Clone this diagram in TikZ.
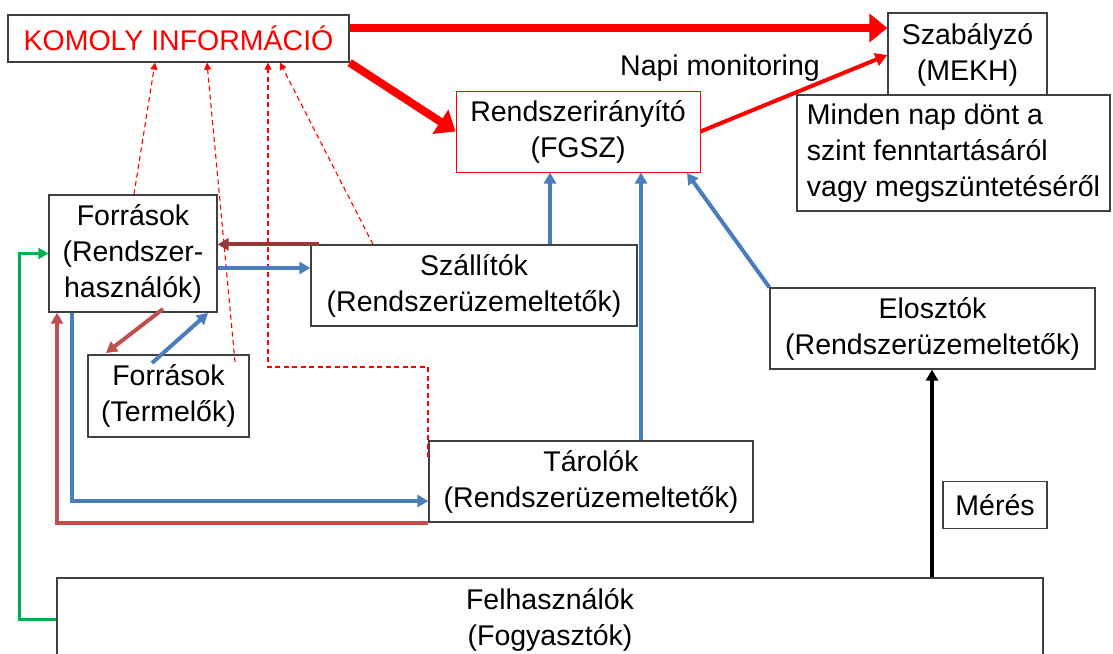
\documentclass[tikz,border=0pt]{standalone}
\usepackage{fontspec}
\setmainfont{Liberation Sans}
\usetikzlibrary{arrows.meta}
\definecolor{pblue}{HTML}{4A7EBB}
\definecolor{pired}{HTML}{C0504D}
\definecolor{pdred}{HTML}{953735}
\definecolor{pgreen}{HTML}{00B050}
\definecolor{pgray}{HTML}{404040}
\newcommand{\fsz}{\fontsize{28.5pt}{36pt}\selectfont}
\begin{document}
\begin{tikzpicture}[x=1pt,y=-1pt,
  box/.style={draw=pgray, line width=1.3pt, fill=white, inner sep=0pt, align=center, font=\fsz},
  bigred/.style={draw=red, line width=8pt, -{Triangle[length=18pt,width=28pt]}},
  midred/.style={draw=red, line width=4pt, -{Triangle[length=12pt,width=13pt]}},
  dashred/.style={draw=red, line width=1.1pt, dash pattern=on 5pt off 3.5pt, -{Triangle[length=7pt,width=7pt]}},
  bluearr/.style={draw=pblue, line width=4pt, -{Triangle[length=11pt,width=12pt]}},
  iredarr/.style={draw=pired, line width=4pt, -{Triangle[length=11pt,width=12pt]}},
  dredarr/.style={draw=pdred, line width=4pt, -{Triangle[length=11pt,width=12pt]}},
  greenarr/.style={draw=pgreen, line width=3pt, -{Triangle[length=10pt,width=11pt]}},
  blackarr/.style={draw=black, line width=4pt, -{Triangle[length=11pt,width=12pt]}}
]
\useasboundingbox (0,0) rectangle (1113,653);
\clip (0,0) rectangle (1113,653);

% boxes
\node[box, text=red, minimum width=341pt, minimum height=47pt] (kom) at (178.5,38.5) {KOMOLY INFORMÁCIÓ};
\node[box, minimum width=159pt, minimum height=84pt] (szab) at (967.5,55) {Szabályzó\\(MEKH)};
\node[box, align=left, minimum width=313pt, minimum height=116pt] (mind) at (953.5,153) {Minden nap dönt a\\szint fenntartásáról\\vagy megszüntetéséről};
\node[box, draw=red, line width=1pt, minimum width=244pt, minimum height=81pt] (rend) at (578,131.5) {Rendszerirányító\\(FGSZ)};
\node[font=\fsz, inner sep=0pt] (napi) at (720,68) {Napi monitoring};
\node[box, minimum width=168pt, minimum height=117pt] (forr) at (133,253.5) {Források\\(Rendszer-\\használók)};
\node[box, minimum width=326pt, minimum height=81pt] (szall) at (474,285.5) {Szállítók\\(Rendszerüzemeltetők)};
\node[box, minimum width=161pt, minimum height=82pt] (term) at (168.5,396) {Források\\(Termelők)};
\node[box, minimum width=324pt, minimum height=81pt] (tar) at (591,481.5) {Tárolók\\(Rendszerüzemeltetők)};
\node[box, minimum width=325pt, minimum height=81pt] (elo) at (932.5,328.5) {Elosztók\\(Rendszerüzemeltetők)};
\node[box, minimum width=104pt, minimum height=47pt] (meres) at (995,505) {Mérés};
\node[box, minimum width=986pt, minimum height=84pt] (felh) at (550,620) {Felhasználók\\(Fogyasztók)};

% helper coordinates
\coordinate (yTop) at (0,28);
\coordinate (s1) at (134,0);
\coordinate (k1) at (155,0);
\coordinate (t2) at (235,362);
\coordinate (k2) at (207,0);
\coordinate (t3) at (428,457);
\coordinate (bend) at (268,367);
\coordinate (s4) at (373,0);
\coordinate (k4) at (280,0);
\coordinate (yb) at (0,268);
\coordinate (g1) at (163,309);
\coordinate (g2) at (106,353);
\coordinate (h1) at (152,363);
\coordinate (h2) at (208,313);
\coordinate (xv1) at (550,0);
\coordinate (xv2) at (641,0);
\coordinate (r3) at (687,173);
\coordinate (xL) at (72,0);
\coordinate (yL) at (0,501);
\coordinate (xR) at (57,0);
\coordinate (xG) at (19,0);
\coordinate (yG) at (0,619);
\coordinate (xK) at (932,0);

% red connectors
\draw[bigred] (kom.east |- yTop) -- (szab.west |- yTop);
\draw[bigred] (kom.south east) -- (rend.west);
\draw[midred] (rend.east) -- (szab.west);

% dashed info arrows
\draw[dashred] (forr.north -| s1) -- (kom.south -| k1);
\draw[dashred] (t2) -- (kom.south -| k2);
\draw[dashred] (t3) |- (bend) -- (kom.south -| bend);
\draw[dashred] (szall.north -| s4) -- (kom.south -| k4);

% flows
\draw[dredarr] ([xshift=9pt]szall.north west) -- (forr.east |- szall.north west);
\draw[bluearr] (forr.east |- yb) -- (szall.west |- yb);
\draw[iredarr] (g1) -- (g2);
\draw[bluearr] (h1) -- (h2);
\draw[bluearr] (szall.north -| xv1) -- (rend.south -| xv1);
\draw[bluearr] (tar.north -| xv2) -- (rend.south -| xv2);
\draw[bluearr] (elo.north west) -- (r3);
\draw[bluearr] (forr.south -| xL) -- (xL |- yL) -- (tar.west |- yL);
\draw[iredarr] (tar.south west) -- (xR |- tar.south west) -- (forr.south -| xR);
\draw[greenarr] (felh.west |- yG) -- (xG |- yG) -- (xG |- forr.west) -- (forr.west);
\draw[blackarr] (felh.north -| xK) -- (elo.south -| xK);
\end{tikzpicture}
\end{document}
